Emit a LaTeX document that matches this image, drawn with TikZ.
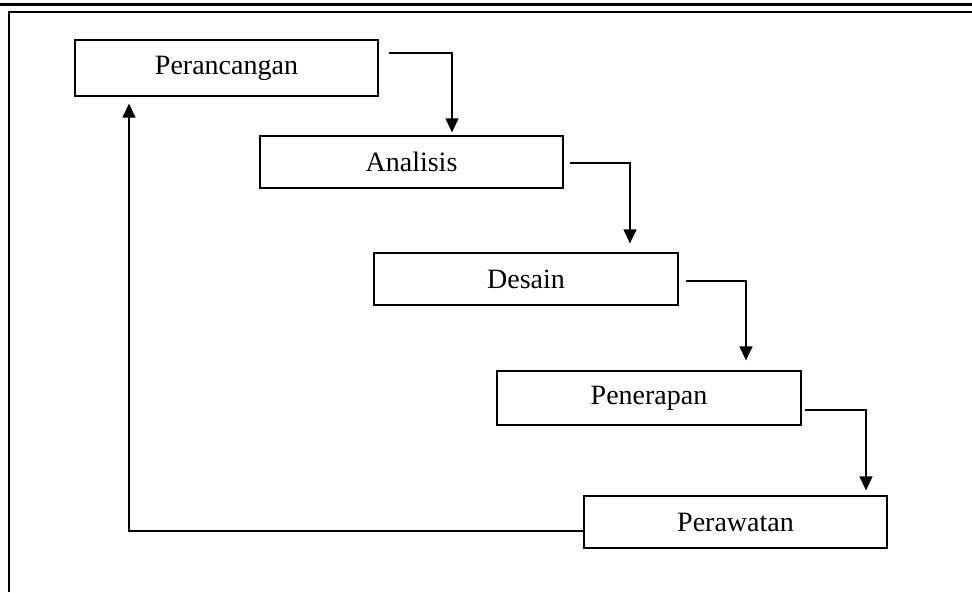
\documentclass[tikz,border=0pt]{standalone}
\usepackage{fontspec}
\setmainfont{Liberation Serif}
\usetikzlibrary{arrows.meta}
\begin{document}
\begin{tikzpicture}[x=1pt,y=-1pt,
  stagebox/.style={draw=black, line width=1.3pt, fill=white, inner sep=0pt,
    font=\fontsize{28}{32}\selectfont},
  conn/.style={draw=black, line width=1.3pt, -{Triangle[length=14pt,width=13pt]}},
  frameline/.style={draw=black}]
\useasboundingbox (0,0) rectangle (972,592);
% frame
\draw[frameline, line width=3pt] (0,4) -- (972,4);
\draw[frameline, line width=2pt] (9,592) -- (9,12) -- (972,12);
% stages
\node[stagebox, minimum width=303pt, minimum height=56pt] (P1) at (226.5,68) {Perancangan};
\node[stagebox, minimum width=303pt, minimum height=52pt] (P2) at (411.5,162) {Analisis};
\node[stagebox, minimum width=304pt, minimum height=52pt] (P3) at (526,279) {Desain};
\node[stagebox, minimum width=304pt, minimum height=54pt] (P4) at (649,398) {Penerapan};
\node[stagebox, minimum width=303pt, minimum height=52pt] (P5) at (735.5,522) {Perawatan};
% connectors
\draw[conn] ([xshift=10pt,yshift=15pt]P1.east) -| ([xshift=40.5pt,yshift=3pt]P2.north);
\draw[conn] ([xshift=6pt,yshift=-1pt]P2.east) -| ([xshift=104pt,yshift=9pt]P3.north);
\draw[conn] ([xshift=7pt,yshift=-2pt]P3.east) -| ([xshift=97pt,yshift=10pt]P4.north);
\draw[conn] ([xshift=3pt,yshift=-12pt]P4.east) -| ([xshift=130.5pt,yshift=5pt]P5.north);
\draw[conn] ([yshift=-9pt]P5.west) -| ([xshift=-97.5pt,yshift=-7pt]P1.south);
\end{tikzpicture}
\end{document}
